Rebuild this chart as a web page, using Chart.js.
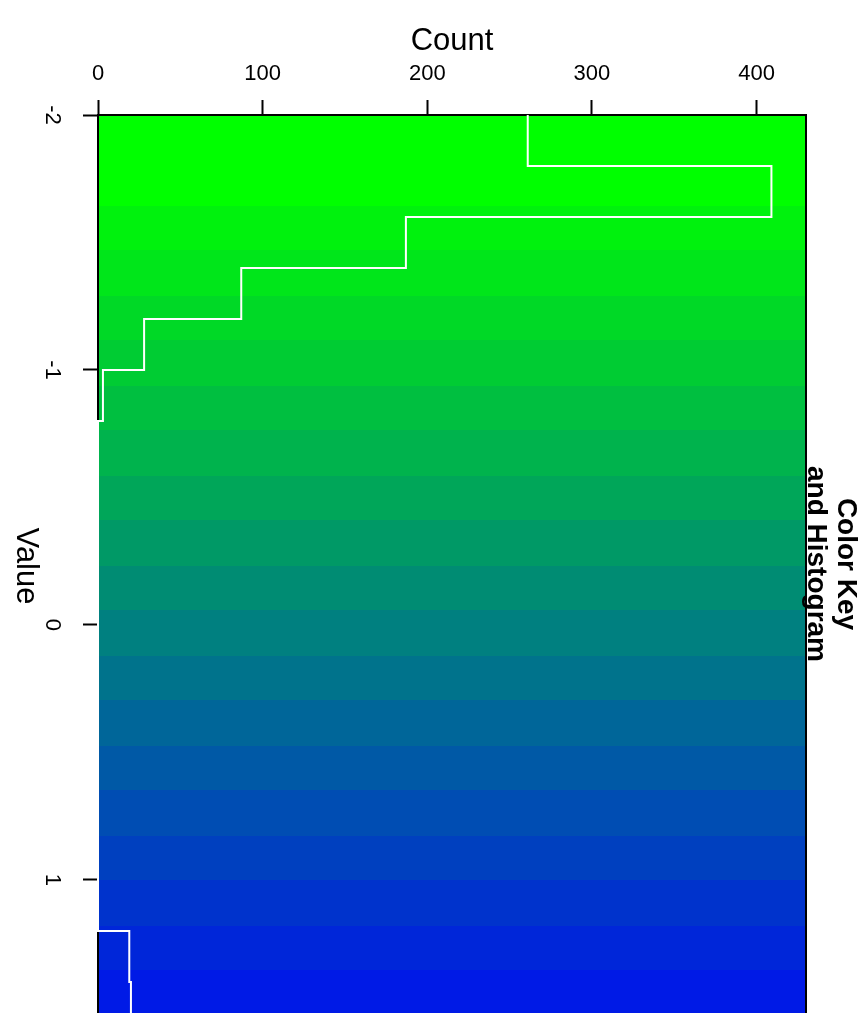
<!DOCTYPE html>
<html>
<head>
<meta charset="utf-8">
<script src="https://cdn.jsdelivr.net/npm/chart.js@4"></script>
<style>
html, body { margin: 0; padding: 0; background: #fff; }
</style>
</head>
<body>
<canvas id="myChart" width="864" height="1013"></canvas>
<script>
// histogram (bin edges on the value axis, counts per bin)
const histBreaks = [-2, -1.8, -1.6, -1.4, -1.2, -1.0, -0.8, -0.6, -0.4, -0.2, 0, 0.2, 0.4, 0.6, 0.8, 1.0, 1.2, 1.4, 1.6];
const histCounts = [261, 409, 187, 87, 28, 3, 0, 0, 0, 0, 0, 0, 0, 0, 0, 0, 19, 20];

// colour key bands
const keyBreaks = [-2, -1.645, -1.469, -1.292, -1.116, -0.939, -0.763, -0.586, -0.410, -0.233, -0.057,
    0.120, 0.296, 0.473, 0.649, 0.826, 1.002, 1.179, 1.355, 1.532, 1.708, 1.885];
const keyColors = ['#00FF00', '#00F20D', '#00E61A', '#00D926', '#00CC33', '#00BF40', '#00B34D', '#00A659',
    '#009966', '#008C73', '#008080', '#00738C', '#006699', '#0059A6', '#004DB3', '#0040BF', '#0033CC',
    '#0026D9', '#001AE6', '#000DF2', '#0000FF'];

const valueTicks = [-2, -1, 0, 1];
const countTicks = [0, 100, 200, 300, 400];

const fontFam = '"Liberation Sans", Arial, sans-serif';

function stepPoints(breaks, counts){
    var pts = []
    for (let i = 0; i < counts.length; i++) {
        pts.push({x: counts[i], y: breaks[i]})
        pts.push({x: counts[i], y: breaks[i + 1]})
    }
    return pts;
}

const keyPlugin = {
    id: 'keyPlugin',
    beforeDraw(chart){
        const {ctx, chartArea, scales} = chart;
        ctx.save();
        ctx.beginPath();
        ctx.rect(chartArea.left, chartArea.top, chartArea.right - chartArea.left, chartArea.bottom - chartArea.top);
        ctx.clip();
        for (let i = 0; i < keyColors.length; i++) {
            const y1 = Math.round(scales.y.getPixelForValue(keyBreaks[i]));
            const y2 = Math.round(scales.y.getPixelForValue(keyBreaks[i + 1]));
            ctx.fillStyle = keyColors[i];
            ctx.fillRect(chartArea.left, y1, chartArea.right - chartArea.left, y2 - y1);
        }
        ctx.restore();
    },
    beforeDatasetsDraw(chart){
        const {ctx, chartArea} = chart;
        ctx.save();
        ctx.strokeStyle = '#000';
        ctx.lineWidth = 2;
        ctx.beginPath();
        ctx.moveTo(chartArea.right, chartArea.top - 1);
        ctx.lineTo(chartArea.right, chartArea.bottom);
        ctx.stroke();
        ctx.restore();
    },
    afterDraw(chart){
        // rotated axis title on the left
        const {ctx, chartArea} = chart;
        ctx.save();
        ctx.translate(26, (chartArea.top + chartArea.bottom) / 2 + 2);
        ctx.rotate(Math.PI / 2);
        ctx.font = '31px ' + fontFam;
        ctx.fillStyle = '#000';
        ctx.textAlign = 'center';
        ctx.textBaseline = 'middle';
        ctx.fillText('Value', 0, 0);
        ctx.restore();
    }
};

const ctx = document.getElementById('myChart');

const myChart = new Chart(ctx, {
    type: 'scatter',
    data: {
        datasets: [{
            data: stepPoints(histBreaks, histCounts),
            showLine: true,
            borderColor: '#fff',
            borderWidth: 2,
            pointRadius: 0,
            tension: 0,
            clip: false
        }]
    },
    options: {
        responsive: false,
        animation: false,
        layout: { padding: 0 },
        plugins: {
            legend: { display: false },
            tooltip: { enabled: false },
            title: {
                display: true,
                position: 'right',
                fullSize: false,
                text: ['Color Key', 'and Histogram'],
                color: '#000',
                font: { family: fontFam, size: 28, weight: 'bold', lineHeight: '30px' },
                padding: { top: 3, bottom: -5 }
            }
        },
        scales: {
            x: {
                type: 'linear',
                position: 'top',
                min: 0,
                max: 430,
                afterFit(scale){
                    scale.height = 115
                    scale.paddingLeft = 0
                    scale.paddingRight = 0
                },
                afterBuildTicks(scale){ scale.ticks = countTicks.map(v => ({value: v})) },
                ticks: {
                    color: '#000',
                    font: { family: fontFam, size: 22 },
                    padding: 13,
                    maxRotation: 0,
                    minRotation: 0
                },
                grid: {
                    drawOnChartArea: false,
                    drawTicks: true,
                    tickLength: 15,
                    tickWidth: 2,
                    tickColor: '#000'
                },
                border: { display: true, color: '#000', width: 2 },
                title: {
                    display: true,
                    text: 'Count',
                    color: '#000',
                    font: { family: fontFam, size: 31 },
                    padding: { top: 23, bottom: 0 }
                }
            },
            y: {
                type: 'linear',
                position: 'left',
                reverse: true,
                min: -2,
                max: 1.522,
                afterFit(scale){
                    scale.width = 98
                    scale.paddingTop = 0
                    scale.paddingBottom = 0
                },
                afterBuildTicks(scale){ scale.ticks = valueTicks.map(v => ({value: v})) },
                ticks: {
                    color: '#000',
                    font: { family: fontFam, size: 22 },
                    padding: 21,
                    minRotation: -90,
                    maxRotation: -90,
                    crossAlign: 'center'
                },
                grid: {
                    drawOnChartArea: false,
                    drawTicks: true,
                    tickLength: 15,
                    tickWidth: 2,
                    tickColor: '#000'
                },
                border: { display: true, color: '#000', width: 2 }
            }
        }
    },
    plugins: [keyPlugin]
});
</script>
</body>
</html>
